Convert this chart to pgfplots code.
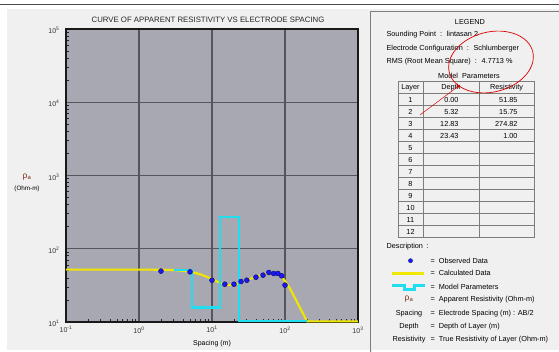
\documentclass[border=0pt]{standalone}
\usepackage{pgfplots}
\pgfplotsset{compat=1.18}
\usetikzlibrary{arrows.meta}
\usepackage{fontspec}
\setmainfont{Liberation Sans}
\definecolor{panelc}{RGB}{240,240,240}
\definecolor{plotbg}{RGB}{168,168,178}
\definecolor{gridc}{RGB}{85,85,90}
\definecolor{calcyel}{RGB}{240,230,0}
\definecolor{modcyan}{RGB}{30,222,240}
\definecolor{obsblue}{RGB}{25,25,245}
\definecolor{obsdark}{RGB}{10,10,120}
\definecolor{rhoc}{RGB}{120,45,25}
\definecolor{tblline}{RGB}{125,125,125}
\begin{document}
\begin{tikzpicture}[x=1pt,y=1pt,font=\fontsize{7.3}{8.5}\selectfont]
\useasboundingbox (0,0) rectangle (559,352);
% backgrounds
\fill[white] (0,0) rectangle (559,352);
\fill[panelc] (7,2) rectangle (559,343);
\draw[gray!60!black, line width=1.5pt] (0,347.5) -- (559,347.5);
% legend box
\draw[tblline, line width=0.9pt, fill=panelc] (370.5,-2) |- (562,340.5);

\begin{axis}[
  at={(66pt,30pt)}, anchor=south west,
  scale only axis, width=292pt, height=293pt,
  xmode=log, ymode=log,
  xmin=0.1, xmax=1000, ymin=10, ymax=100000,
  axis background/.style={fill=plotbg},
  grid=major,
  major grid style={draw=gridc, line width=1.3pt},
  xtick={0.1,1,10,100,1000},
  xticklabels={10\textsuperscript{-1},10\textsuperscript{0},10\textsuperscript{1},10\textsuperscript{2},10\textsuperscript{3}},
  minor xtick={0.2,0.3,0.4,0.5,0.6,0.7,0.8,0.9,2,3,4,5,6,7,8,9,20,30,40,50,60,70,80,90,200,300,400,500,600,700,800,900},
  ytick={10,100,1000,10000,100000},
  yticklabels={10\textsuperscript{1},10\textsuperscript{2},10\textsuperscript{3},10\textsuperscript{4},10\textsuperscript{5}},
  minor ytick={20,30,40,50,60,70,80,90,200,300,400,500,600,700,800,900,2000,3000,4000,5000,6000,7000,8000,9000,20000,30000,40000,50000,60000,70000,80000,90000},
  xtick pos=bottom, ytick pos=left, tick align=inside,
  major tick length=0pt, minor tick length=3pt,
  minor tick style={black!85, line width=0.7pt},
  axis line style={black!90, line width=1.3pt},
  ticklabel style={font=\fontsize{7}{8}\selectfont, text=black!80},
  xticklabel style={yshift=-1pt},
  yticklabel style={anchor=east, xshift=-3pt, yshift=-1.5pt},
  clip=false,
]
% calculated data
\addplot[calcyel, line width=2.1pt] coordinates {
  (0.1,51.85) (1,51.85) (2,51.7) (3,51.2) (4,50.0) (5,48.6) (6,46.6)
  (7,44.6) (8,42.4) (10,38.6) (12,35.3) (14,33.2) (16,32.1) (19,31.9)
  (22,33.0) (25,34.8) (30,37.4) (40,41.4) (50,44.4) (60,46.4) (70,46.6)
  (80,45.2) (90,41.5) (100,36.2) (115,29.5) (130,23.5) (145,19.0)
  (160,15.7) (180,12.6) (200,10.2) (1000,10.2)
};
% model parameters
\addplot[modcyan, line width=2.1pt] coordinates {
  (3,51.85) (5.32,51.85) (5.32,15.75) (12.83,15.75) (12.83,274.82)
  (23.43,274.82) (23.43,10.2) (200,10.2)
};
% observed data
\addplot[only marks, mark=*, mark size=2.5pt, mark options={fill=obsblue, draw=obsdark, line width=0.4pt}] coordinates {
  (2,49.5) (5,48.4) (10,37.2) (15,32.8) (20,32.8) (25,35.7) (30,37.2)
  (40,40.9) (50,43.6) (60,47.4) (70,45.9) (80,45.9) (90,42.7) (100,31.8)
};
\end{axis}

% titles and axis labels
\node[font=\fontsize{7.8}{9}\selectfont, text=black!85] at (208,332) {CURVE OF APPARENT RESISTIVITY VS ELECTRODE SPACING};
\node[text=rhoc, font=\fontsize{8.5}{9}\selectfont] at (27,175) {ρ\textsubscript{a}};
\node[font=\fontsize{6.3}{7}\selectfont] at (27,163) {(Ohm-m)};
\node[font=\fontsize{7}{8}\selectfont] at (212,8) {Spacing (m)};

% legend panel
\node at (470,330) {LEGEND};
\node[anchor=west] at (383,317) {Sounding Point \ : \ lintasan 2};
\node[anchor=west] at (383,303) {Electrode Configuration \ : \ Schlumberger};
\node[anchor=west] at (383,290) {RMS (Root Mean Square) \ : \ 4.7713 \%};
\node at (469,276) {Model \ Parameters};

% table
\draw[tblline, line width=1pt] (398.5,270.5) rectangle (534.5,114.5);
\foreach \yy in {258.5,246.5,...,126.5} {\draw[tblline, line width=1pt] (398.5,\yy) -- (534.5,\yy);}
\draw[tblline, line width=1pt] (423.5,270.5) -- (423.5,114.5);
\draw[tblline, line width=1pt] (479.5,270.5) -- (479.5,114.5);
\node at (410.5,264) {Layer};
\node at (451,264) {Depth};
\node at (506.5,264) {Resistivity};
\foreach \i in {1,...,12} {\node at (410.5,{264-12*\i}) {\i};}
\node[anchor=east] at (462,252) {0.00};
\node[anchor=east] at (462,240) {5.32};
\node[anchor=east] at (462,228) {12.83};
\node[anchor=east] at (462,216) {23.43};
\node[anchor=east] at (521,252) {51.85};
\node[anchor=east] at (521,240) {15.75};
\node[anchor=east] at (521,228) {274.82};
\node[anchor=east] at (521,216) {1.00};

% description
\node[anchor=west] at (383,105.5) {Description \,:};
\node[circle, fill=obsblue, draw=obsdark, line width=0.3pt, inner sep=0pt, minimum size=4.2pt] at (410.5,91.3) {};
\draw[calcyel, line width=2.1pt] (392,78.5) -- (424,78.5);
\draw[modcyan, line width=2.1pt] (392,66.5) -- (404.5,66.5) -- (404.5,62.5) -- (414.5,62.5) -- (414.5,66.5) -- (425,66.5);
\node[text=rhoc, font=\fontsize{8.5}{9}\selectfont] at (409,52.5) {ρ\textsubscript{a}};
\node at (409,38.7) {Spacing};
\node at (409,25.3) {Depth};
\node at (409,12) {Resistivity};
\node[anchor=west] at (427,91.3) {= \ Observed Data};
\node[anchor=west] at (427,78.7) {= \ Calculated Data};
\node[anchor=west] at (427,65.3) {= \ Model Parameters};
\node[anchor=west] at (427,52) {= \ Apparent Resistivity (Ohm-m)};
\node[anchor=west] at (427,38.7) {= \ Electrode Spacing (m) : AB/2};
\node[anchor=west] at (427,25.3) {= \ Depth of Layer (m)};
\node[anchor=west] at (427,12) {= \ True Resistivity of Layer (Ohm-m)};

% red annotation
\draw[red!85!black, line width=0.7pt, rotate around={14:(491,290)}] (491,290) ellipse [x radius=43, y radius=30];
\draw[red!85!black, line width=0.5pt, -{Stealth[length=4pt,width=3pt]}] (420,237) -- (460,267);
\end{tikzpicture}
\end{document}
